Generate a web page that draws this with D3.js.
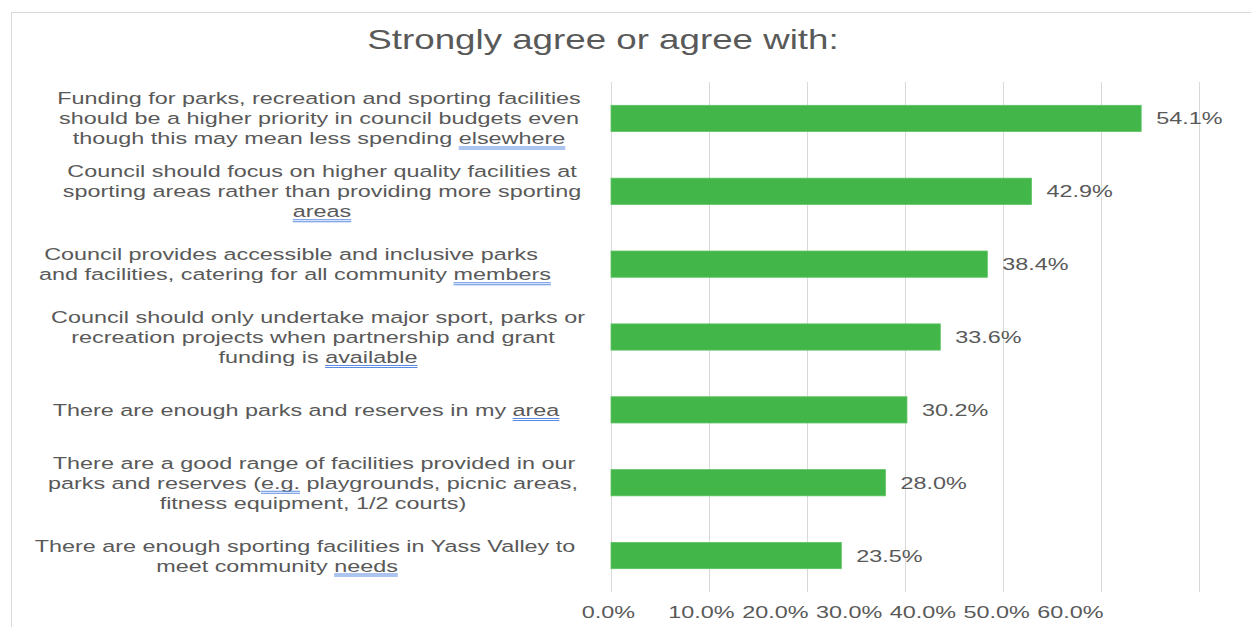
<!DOCTYPE html>
<html>
<head>
<meta charset="utf-8">
<script src="https://cdn.jsdelivr.net/npm/d3@7"></script>
<style>
  body { margin: 0; background: #fff; }
  svg { display: block; }
  text { font-family: "Liberation Sans", Arial, sans-serif; }
</style>
</head>
<body>
<svg id="chart" width="1251" height="627"></svg>
<script>
// Survey statements (line breaks as wrapped in the chart) and agreement shares
const categories = [
  "Funding for parks, recreation and sporting facilities\nshould be a higher priority in council budgets even\nthough this may mean less spending elsewhere",
  "Council should focus on higher quality facilities at\nsporting areas rather than providing more sporting\nareas",
  "Council provides accessible and inclusive parks\nand facilities, catering for all community members",
  "Council should only undertake major sport, parks or\nrecreation projects when partnership and grant\nfunding is available",
  "There are enough parks and reserves in my area",
  "There are a good range of facilities provided in our\nparks and reserves (e.g. playgrounds, picnic areas,\nfitness equipment, 1/2 courts)",
  "There are enough sporting facilities in Yass Valley to\nmeet community needs"
];
const values = [0.541, 0.429, 0.384, 0.336, 0.302, 0.280, 0.235];
const tickValues = [0, 0.1, 0.2, 0.3, 0.4, 0.5, 0.6];
// Words carrying the proofing underline in each statement
const flaggedWords = ["elsewhere", "areas", "members", "available", "area", "e.g.", "needs"];
const title = "Strongly agree or agree with:";

// Layout: horizontal nudge (px) of each wrapped label line from the common centre
const lineShift = [[1, 1, 1], [4, 4, 4], [-27, -23], [0, -5, 0], [-12], [-4, -5, -5], [-13, -41]];

const svg = d3.select("#chart");
const textColor = "#595959";
const gridColor = "#d9d9d9";
const barColor = "#43b649";
const stretch = 1.36;     // horizontal stretch applied to all chart text
const fontSize = 17.2;

// Chart frame
svg.append("rect")
  .attr("x", 11.5).attr("y", 12.5)
  .attr("width", 1300).attr("height", 700)
  .attr("fill", "#fff").attr("stroke", gridColor);

// Title
svg.append("text")
  .attr("transform", `translate(603,40) scale(${stretch},1)`)
  .attr("dy", "0.35em")
  .attr("text-anchor", "middle")
  .attr("font-size", 27).attr("fill", textColor)
  .text(title);

// Scales
const plotTop = 82, plotBottom = 592;
const x = d3.scaleLinear().domain([0, 0.6]).range([611, 1199]);
const y = d3.scaleBand()
  .domain(d3.range(categories.length))
  .range([plotTop, plotBottom])
  .paddingInner(0.64).paddingOuter(0.32);

// Vertical gridlines
svg.append("g").selectAll("line").data(tickValues).join("line")
  .attr("x1", d => x(d) + 0.5).attr("x2", d => x(d) + 0.5)
  .attr("y1", plotTop).attr("y2", plotBottom)
  .attr("stroke", gridColor).attr("stroke-width", 1);

// Tick labels along the bottom (packed spacing as printed)
const labelScale = d3.scaleLinear().domain([0, 0.1, 0.6]).range([608, 701, 1070]);
const axis = svg.append("g")
  .attr("transform", "translate(0,612)")
  .call(d3.axisBottom(labelScale).tickValues(tickValues).tickFormat(d3.format(".1%")).tickSize(0));
axis.select(".domain").remove();
axis.selectAll("text")
  .attr("y", 0).attr("dy", "0.35em")
  .attr("transform", `scale(${stretch},1)`)
  .attr("font-size", fontSize)
  .attr("font-family", "'Liberation Sans', Arial, sans-serif")
  .attr("fill", textColor);

// Bars
svg.append("g").selectAll("rect").data(values).join("rect")
  .attr("x", x(0))
  .attr("y", (d, i) => y(i))
  .attr("width", d => x(d) - x(0))
  .attr("height", y.bandwidth())
  .attr("fill", barColor)
  .attr("stroke", "#5cc261").attr("stroke-width", 0.8);

// Value labels
svg.append("g").selectAll("text").data(values).join("text")
  .attr("transform", (d, i) => `translate(${x(d) + 15},${y(i) + y.bandwidth() / 2}) scale(${stretch},1)`)
  .attr("dy", "0.35em")
  .attr("font-size", fontSize).attr("fill", textColor)
  .text(d => d3.format(".1%")(d));

// Category labels, centred and wrapped
const lineHeight = 20;
const labelX = 318;
const labelGroup = svg.append("g");
categories.forEach((cat, i) => {
  const lines = cat.split("\n");
  const cy = y(i) + y.bandwidth() / 2;
  const word = flaggedWords[i];
  let flagLine = -1;
  lines.forEach((ln, j) => { if (ln.includes(word)) flagLine = j; });
  lines.forEach((ln, j) => {
    const ly = cy + (j - (lines.length - 1) / 2) * lineHeight;
    const lx = labelX + ((lineShift[i] && lineShift[i][j]) || 0);
    const g = labelGroup.append("g")
      .attr("transform", `translate(${lx},${ly}) scale(${stretch},1)`);
    const t = g.append("text")
      .attr("dy", "0.35em")
      .attr("text-anchor", "middle")
      .attr("font-size", fontSize).attr("fill", textColor)
      .text(ln);
    if (j === flagLine) {
      const node = t.node();
      const idx = ln.lastIndexOf(word);
      const x0 = node.getStartPositionOfChar(idx).x;
      const x1 = node.getEndPositionOfChar(idx + word.length - 1).x;
      const base = node.getStartPositionOfChar(idx).y;
      [2.5, 4.5].forEach(off => {
        g.append("line")
          .attr("x1", x0).attr("x2", x1)
          .attr("y1", base + off).attr("y2", base + off)
          .attr("stroke", "#5b8be0").attr("stroke-width", 1);
      });
    }
  });
});
</script>
</body>
</html>
